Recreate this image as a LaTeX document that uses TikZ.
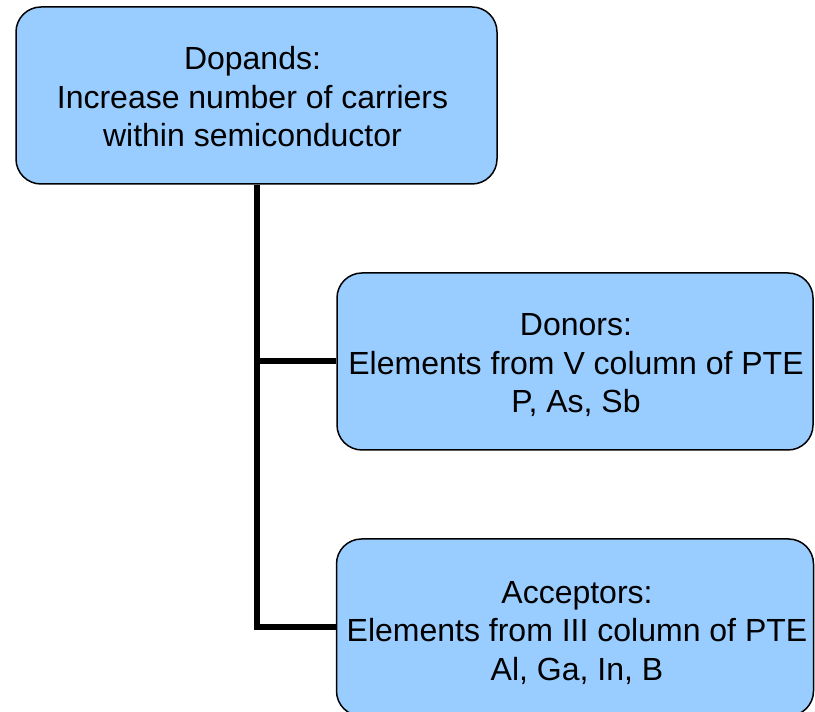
\documentclass[tikz,border=0pt]{standalone}
\usepackage{fontspec}
\setmainfont{Liberation Sans}
\definecolor{boxblue}{HTML}{99CCFF}
\begin{document}
\begin{tikzpicture}[x=1pt,y=1pt,
  infobox/.style={draw=black, line width=1.5pt, fill=boxblue, rounded corners=25pt,
    minimum height=177pt, inner sep=0pt},
  infotext/.style={align=center, inner sep=0pt,
    font=\fontsize{32}{38.5}\selectfont},
  conn/.style={draw=black, line width=6pt, line join=miter}]
\useasboundingbox (0,0) rectangle (815,712);
\clip (0,0) rectangle (815,712);
\node[infobox, minimum width=481pt] (top) at (256.5,616.5) {};
\node[infobox, minimum width=476pt] (don) at (575,350.5) {};
\node[infobox, minimum width=477pt] (acc) at (575,84.5) {};
\node[infotext] (topT) at (252.5,615)
  {Dopands:\\Increase number of carriers\\within semiconductor};
\node[infotext] (donT) at (576,346.5)
  {Donors:\\Elements from V column of PTE\\P, As, Sb};
\node[infotext] (accT) at (577,79)
  {Acceptors:\\Elements from III column of PTE\\Al, Ga, In, B};
\draw[conn] (top.south) |- (acc.west);
\draw[conn] (top.south |- don.west) -- (don.west);
\end{tikzpicture}
\end{document}
